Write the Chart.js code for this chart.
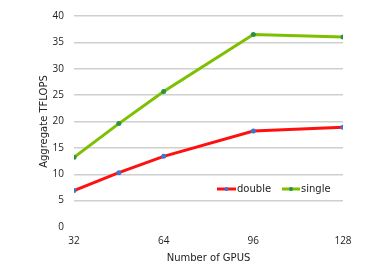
<!DOCTYPE html>
<html>
<head>
<meta charset="utf-8">
<script src="https://cdn.jsdelivr.net/npm/chart.js@4"></script>
<style>
  html, body { margin: 0; padding: 0; background: #fff; }
  #wrap { width: 366px; height: 267px; }
</style>
</head>
<body>
<div id="wrap"><canvas id="c" width="366" height="267"></canvas></div>
<script>
// ===== Datos =====
const gpus = [32, 48, 64, 96, 128];
const doubleVals = [6.9, 10.3, 13.4, 18.2, 18.9];
const singleVals = [13.2, 19.6, 25.7, 36.5, 36.0];
const xTicks = [32, 64, 96, 128];
const yTicks = [0, 5, 10, 15, 20, 25, 30, 35, 40];

const puntos = vals => vals.map((v, i) => ({ x: gpus[i], y: v }));

// leyenda dibujada dentro del área del gráfico
const leyendaInterna = {
    id: 'leyendaInterna',
    afterDraw(chart) {
        const ctx = chart.ctx;
        const y = 189;
        const items = [
            { ds: chart.data.datasets[0], x0: 217, x1: 236, tx: 237 },
            { ds: chart.data.datasets[1], x0: 282, x1: 300, tx: 301 }
        ];
        ctx.save();
        ctx.font = '10px "DejaVu Sans"';
        ctx.textBaseline = 'middle';
        items.forEach(it => {
            ctx.strokeStyle = it.ds.borderColor;
            ctx.lineWidth = 3;
            ctx.beginPath();
            ctx.moveTo(it.x0, y);
            ctx.lineTo(it.x1, y);
            ctx.stroke();
            ctx.fillStyle = it.ds.pointBackgroundColor;
            ctx.beginPath();
            ctx.arc((it.x0 + it.x1) / 2, y, 2, 0, Math.PI * 2);
            ctx.fill();
            ctx.fillStyle = '#222';
            ctx.fillText(it.ds.label, it.tx, y + 0.5);
        });
        ctx.restore();
    }
};

new Chart(document.getElementById('c'), {
    type: 'line',
    data: {
        datasets: [{
            label: 'double',
            data: puntos(doubleVals),
            borderColor: '#ff1010',
            backgroundColor: '#ff1010',
            borderWidth: 3,
            pointRadius: 2.5,
            pointBackgroundColor: '#3f74d0',
            pointBorderColor: '#3f74d0',
            pointBorderWidth: 0,
            tension: 0
        }, {
            label: 'single',
            data: puntos(singleVals),
            borderColor: '#7cc000',
            backgroundColor: '#7cc000',
            borderWidth: 3,
            pointRadius: 2.5,
            pointBackgroundColor: '#2a9048',
            pointBorderColor: '#2a9048',
            pointBorderWidth: 0,
            tension: 0
        }]
    },
    options: {
        responsive: false,
        animation: false,
        layout: { padding: { top: 12, right: 23, left: 38, bottom: 0 } },
        plugins: { legend: { display: false }, tooltip: { enabled: false } },
        scales: {
            x: {
                type: 'linear',
                min: 32,
                max: 128,
                afterBuildTicks: s => { s.ticks = xTicks.map(v => ({ value: v })); },
                afterFit: s => { s.height = 40; },
                grid: { display: false, drawTicks: false },
                border: { display: false },
                ticks: { color: '#222', font: { family: 'Open Sans', size: 10 }, padding: 8 },
                title: {
                    display: true,
                    text: 'Number of GPUS',
                    color: '#222',
                    font: { family: 'DejaVu Sans', size: 10 },
                    padding: { top: 2, bottom: 3 }
                }
            },
            y: {
                min: 0,
                max: 40,
                afterBuildTicks: s => { s.ticks = yTicks.map(v => ({ value: v })); },
                afterFit: s => { s.width = 36; },
                grid: {
                    color: ctx => ctx.tick && ctx.tick.value === 0 ? 'rgba(0,0,0,0)' : '#cfcfcf',
                    lineWidth: 1.5,
                    drawTicks: false
                },
                border: { display: false },
                ticks: { color: '#222', font: { family: 'Open Sans', size: 10 }, padding: 10 },
                title: {
                    display: true,
                    text: 'Aggregate TFLOPS',
                    color: '#222',
                    font: { family: 'DejaVu Sans', size: 10 },
                    padding: { top: 0, bottom: 0 }
                }
            }
        }
    },
    plugins: [leyendaInterna]
});
</script>
</body>
</html>
